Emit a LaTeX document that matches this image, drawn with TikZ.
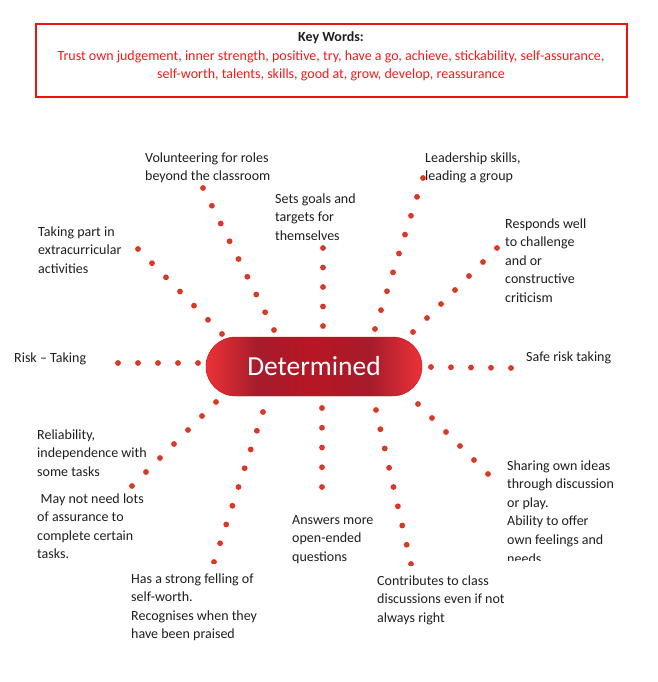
\documentclass[tikz,border=0pt]{standalone}
\usepackage{fontspec}
\setmainfont{Carlito}
\usetikzlibrary{calc}
\definecolor{boxred}{HTML}{EE1111}
\definecolor{kwred}{HTML}{F01B1B}
\definecolor{txt}{HTML}{1E1E1E}
\definecolor{dotred}{HTML}{EE2A24}
\definecolor{dotgreen}{HTML}{4E8A2E}
\definecolor{pilledge}{HTML}{EC3238}
\definecolor{pillmid}{HTML}{A51C2C}
\pgfdeclarehorizontalshading{pillshade}{100bp}{color(0bp)=(pilledge); color(25bp)=(pilledge); color(37bp)=(pillmid); color(50bp)=(pillmid!80!red); color(63bp)=(pillmid); color(75bp)=(pilledge); color(100bp)=(pilledge)}
\newcommand\lbl[1]{\begin{tabular}[t]{@{}l@{}}#1\end{tabular}}
\newcommand\dotchain[3]{%
  \pgfmathtruncatemacro\lastidx{#3-1}%
  \foreach \k in {0,...,\lastidx}{%
    \pgfmathsetmacro\fr{\k/\lastidx}%
    \path ($(#1)!\fr!(#2)$) pic{reddot};%
  }%
}
\tikzset{
  reddot/.pic={\fill[dotred] (0,0) circle (2.9pt); \fill[dotgreen] (0,0) circle (1.1pt);},
  lab/.style={anchor=base west, inner sep=0pt, text=txt, font=\fontsize{14}{18.6}\selectfont},
  kw/.style={anchor=base, inner sep=0pt, font=\fontsize{14}{18.6}\selectfont},
  pill/.style={rounded corners=29.5pt, minimum width=216pt, minimum height=59pt, shading=pillshade, draw=red!85!black, line width=0.4pt, text=white, font=\fontsize{27.5}{30}\selectfont, inner sep=0pt}
}
\begin{document}
\begin{tikzpicture}[x=1pt,y=-1pt]
\useasboundingbox (0,0) rectangle (657,682);
% key words box
\draw[boxred, line width=2pt] (36,24) rectangle (627,97);
\node[kw, text=txt, font=\fontsize{14}{18.6}\selectfont\bfseries] (kwtitle) at (331,42) {Key Words:};
\node[kw, text=kwred] (kw1) at (331,61) {Trust own judgement, inner strength, positive, try, have a go, achieve, stickability, self-assurance,};
\node[kw, text=kwred] (kw2) at (331,79) {self-worth, talents, skills, good at, grow, develop, reassurance};
% centre
\node[pill] (det) at (314,366.5) {Determined};
% chain coordinates
\coordinate (volA) at (203,188); \coordinate (volB) at (274,330);
\coordinate (extA) at (138,249); \coordinate (extB) at (222,334);
\coordinate (golA) at (323,248); \coordinate (golB) at (323,326);
\coordinate (ledA) at (423,178); \coordinate (ledB) at (375,329);
\coordinate (resA) at (497,248); \coordinate (resB) at (413,332);
\coordinate (rskA) at (118,363); \coordinate (rskB) at (198,363);
\coordinate (safA) at (431,367); \coordinate (safB) at (511,368);
\coordinate (relA) at (216,402); \coordinate (relB) at (132,486);
\coordinate (strA) at (263,412); \coordinate (strB) at (214,562);
\coordinate (ansA) at (322,408); \coordinate (ansB) at (322,487);
\coordinate (conA) at (376,410); \coordinate (conB) at (411,564);
\coordinate (shaA) at (418,404); \coordinate (shaB) at (488,474);
% labels
\node[lab] (vol) at (145,162) {\lbl{Volunteering for roles\\beyond the classroom}};
\node[lab] (gol) at (275,203) {\lbl{Sets goals and\\targets for\\themselves}};
\node[lab] (ext) at (38,236) {\lbl{Taking part in\\extracurricular\\activities}};
\node[lab] (led) at (425,162) {\lbl{Leadership skills,\\leading a group}};
\node[lab] (res) at (505,228) {\lbl{Responds well\\to challenge\\and or\\constructive\\criticism}};
\node[lab] (rsk) at (14,362) {Risk – Taking};
\node[lab] (saf) at (526,361) {Safe risk taking};
\node[lab] (rel) at (37,439) {\lbl{Reliability,\\independence with\\some tasks}};
\node[lab] (may) at (37,503) {\lbl{\hspace*{3.5pt}May not need lots\\of assurance to\\complete certain\\tasks.}};
\begin{scope}
\clip (500,440) rectangle (650,560);
\node[lab] (sha) at (507,470) {\lbl{Sharing own ideas\\through discussion\\or play.\\Ability to offer\\own feelings and\\needs}};
\end{scope}
\node[lab] (ans) at (292,524) {\lbl{Answers more\\open-ended\\questions}};
\node[lab] (str) at (131,583) {\lbl{Has a strong felling of\\self-worth.\\Recognises when they\\have been praised}};
\node[lab] (con) at (377,585) {\lbl{Contributes to class\\discussions even if not\\always right}};
% dotted chains
\dotchain{volA}{volB}{9}
\dotchain{extA}{extB}{7}
\dotchain{golA}{golB}{5}
\dotchain{ledA}{ledB}{9}
\dotchain{resA}{resB}{7}
\dotchain{rskA}{rskB}{5}
\dotchain{safA}{safB}{5}
\dotchain{relA}{relB}{7}
\dotchain{ansA}{ansB}{5}
\dotchain{shaA}{shaB}{6}
\begin{scope}
\clip (0,0) rectangle (657,563.5);
\dotchain{strA}{strB}{9}
\end{scope}
\begin{scope}
\clip (0,0) rectangle (657,565.5);
\dotchain{conA}{conB}{9}
\end{scope}
\end{tikzpicture}
\end{document}
